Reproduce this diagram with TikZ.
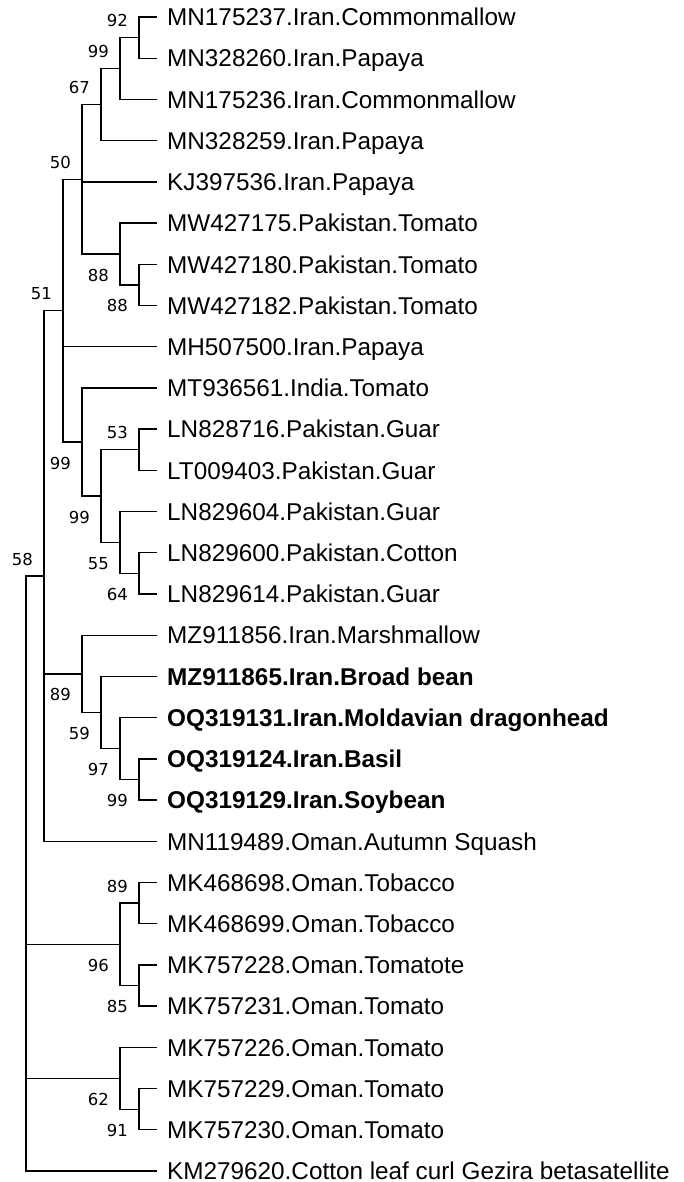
\documentclass[tikz,border=0pt]{standalone}
\usepackage{fontspec}
\setmainfont{Liberation Sans}
\newfontfamily\bootfont{DejaVu Sans}
\usetikzlibrary{positioning}
\definecolor{TreeInk}{HTML}{000000}
\tikzset{
  branch/.style={draw=TreeInk, line width=1.3pt},
  leaf/.style={anchor=west, inner xsep=10pt, inner ysep=0pt, text height=17.5pt, text depth=0pt, font=\fontsize{24.3}{28}\selectfont},
  boldleaf/.style={leaf, font=\fontsize{24.3}{28}\selectfont\bfseries},
  boot/.style={anchor=east, inner sep=0pt, font=\bootfont\fontsize{16.5}{18}\selectfont}
}

\begin{document}
\begin{tikzpicture}[x=1pt, y=-1pt]
\useasboundingbox (0,0) rectangle (683,1182);
% leaves
\node[leaf] (l1) at (157,17) {MN175237.Iran.Commonmallow};
\node[leaf] (l2) at (157,58.2) {MN328260.Iran.Papaya};
\node[leaf] (l3) at (157,99.4) {MN175236.Iran.Commonmallow};
\node[leaf] (l4) at (157,140.6) {MN328259.Iran.Papaya};
\node[leaf] (l5) at (157,181.9) {KJ397536.Iran.Papaya};
\node[leaf] (l6) at (157,223.1) {MW427175.Pakistan.Tomato};
\node[leaf] (l7) at (157,264.3) {MW427180.Pakistan.Tomato};
\node[leaf] (l8) at (157,305.5) {MW427182.Pakistan.Tomato};
\node[leaf] (l9) at (157,346.7) {MH507500.Iran.Papaya};
\node[leaf] (l10) at (157,387.9) {MT936561.India.Tomato};
\node[leaf] (l11) at (157,429.1) {LN828716.Pakistan.Guar};
\node[leaf] (l12) at (157,470.4) {LT009403.Pakistan.Guar};
\node[leaf] (l13) at (157,511.6) {LN829604.Pakistan.Guar};
\node[leaf] (l14) at (157,552.8) {LN829600.Pakistan.Cotton};
\node[leaf] (l15) at (157,594.0) {LN829614.Pakistan.Guar};
\node[leaf] (l16) at (157,635.2) {MZ911856.Iran.Marshmallow};
\node[boldleaf] (l17) at (157,676.4) {MZ911865.Iran.Broad bean};
\node[boldleaf] (l18) at (157,717.6) {OQ319131.Iran.Moldavian dragonhead};
\node[boldleaf] (l19) at (157,758.9) {OQ319124.Iran.Basil};
\node[boldleaf] (l20) at (157,800.1) {OQ319129.Iran.Soybean};
\node[leaf] (l21) at (157,841.3) {MN119489.Oman.Autumn Squash};
\node[leaf] (l22) at (157,882.5) {MK468698.Oman.Tobacco};
\node[leaf] (l23) at (157,923.7) {MK468699.Oman.Tobacco};
\node[leaf] (l24) at (157,964.9) {MK757228.Oman.Tomatote};
\node[leaf] (l25) at (157,1006.1) {MK757231.Oman.Tomato};
\node[leaf] (l26) at (157,1047.4) {MK757226.Oman.Tomato};
\node[leaf] (l27) at (157,1088.6) {MK757229.Oman.Tomato};
\node[leaf] (l28) at (157,1129.8) {MK757230.Oman.Tomato};
\node[leaf] (l29) at (157,1171) {KM279620.Cotton leaf curl Gezira betasatellite};
% internal nodes
\coordinate (n1) at (139,37.6);
\coordinate (n2) at (120,68.5);
\coordinate (n3) at (101,104.6);
\coordinate (n5) at (139,284.9);
\coordinate (n4) at (120,254);
\coordinate (n6) at (82,179.3);
\coordinate (n7) at (139,449.7);
\coordinate (n9) at (139,573.4);
\coordinate (n8) at (120,542.5);
\coordinate (n10) at (101,496.1);
\coordinate (n11) at (82,442);
\coordinate (n12) at (63,310.7);
\coordinate (n16) at (139,779.5);
\coordinate (n15) at (120,748.6);
\coordinate (n14) at (101,712.5);
\coordinate (n13) at (82,673.9);
\coordinate (n17) at (44,576);
\coordinate (n19) at (139,903.1);
\coordinate (n20) at (139,985.5);
\coordinate (n18) at (120,944.3);
\coordinate (n22) at (139,1109.2);
\coordinate (n21) at (120,1078.3);
\coordinate (root) at (26,873.5);
% branches
\draw[branch] (n1) |- (l1.west);
\draw[branch] (n1) |- (l2.west);
\draw[branch] (n2) |- (n1);
\draw[branch] (n2) |- (l3.west);
\draw[branch] (n3) |- (n2);
\draw[branch] (n3) |- (l4.west);
\draw[branch] (n5) |- (l7.west);
\draw[branch] (n5) |- (l8.west);
\draw[branch] (n4) |- (l6.west);
\draw[branch] (n4) |- (n5);
\draw[branch] (n6) |- (n3);
\draw[branch] (n6) |- (l5.west);
\draw[branch] (n6) |- (n4);
\draw[branch] (n7) |- (l11.west);
\draw[branch] (n7) |- (l12.west);
\draw[branch] (n9) |- (l14.west);
\draw[branch] (n9) |- (l15.west);
\draw[branch] (n8) |- (l13.west);
\draw[branch] (n8) |- (n9);
\draw[branch] (n10) |- (n7);
\draw[branch] (n10) |- (n8);
\draw[branch] (n11) |- (l10.west);
\draw[branch] (n11) |- (n10);
\draw[branch] (n12) |- (n6);
\draw[branch] (n12) |- (l9.west);
\draw[branch] (n12) |- (n11);
\draw[branch] (n16) |- (l19.west);
\draw[branch] (n16) |- (l20.west);
\draw[branch] (n15) |- (l18.west);
\draw[branch] (n15) |- (n16);
\draw[branch] (n14) |- (l17.west);
\draw[branch] (n14) |- (n15);
\draw[branch] (n13) |- (l16.west);
\draw[branch] (n13) |- (n14);
\draw[branch] (n17) |- (n12);
\draw[branch] (n17) |- (n13);
\draw[branch] (n17) |- (l21.west);
\draw[branch] (n19) |- (l22.west);
\draw[branch] (n19) |- (l23.west);
\draw[branch] (n20) |- (l24.west);
\draw[branch] (n20) |- (l25.west);
\draw[branch] (n18) |- (n19);
\draw[branch] (n18) |- (n20);
\draw[branch] (n22) |- (l27.west);
\draw[branch] (n22) |- (l28.west);
\draw[branch] (n21) |- (l26.west);
\draw[branch] (n21) |- (n22);
\draw[branch] (root) |- (n17);
\draw[branch] (root) |- (n18);
\draw[branch] (root) |- (n21);
\draw[branch] (root) |- (l29.west);
% bootstrap values
\node[boot] (b1) at (128,20.6) {92};
\node[boot] (b2) at (109,51.5) {99};
\node[boot] (b3) at (90,87.6) {67};
\node[boot] (b4) at (109,275) {88};
\node[boot] (b5) at (128,305.9) {88};
\node[boot] (b6) at (71,162.3) {50};
\node[boot] (b7) at (128,432.7) {53};
\node[boot] (b9) at (128,594.4) {64};
\node[boot] (b8) at (109,563.5) {55};
\node[boot] (b10) at (90,517.1) {99};
\node[boot] (b11) at (71,463) {99};
\node[boot] (b12) at (52,293.7) {51};
\node[boot] (b16) at (128,800.5) {99};
\node[boot] (b15) at (109,769.6) {97};
\node[boot] (b14) at (90,733.5) {59};
\node[boot] (b13) at (71,694.9) {89};
\node[boot] (b17) at (33,559) {58};
\node[boot] (b19) at (128,886.1) {89};
\node[boot] (b20) at (128,1006.5) {85};
\node[boot] (b18) at (109,965.3) {96};
\node[boot] (b22) at (128,1130.2) {91};
\node[boot] (b21) at (109,1099.3) {62};
\end{tikzpicture}
\end{document}
